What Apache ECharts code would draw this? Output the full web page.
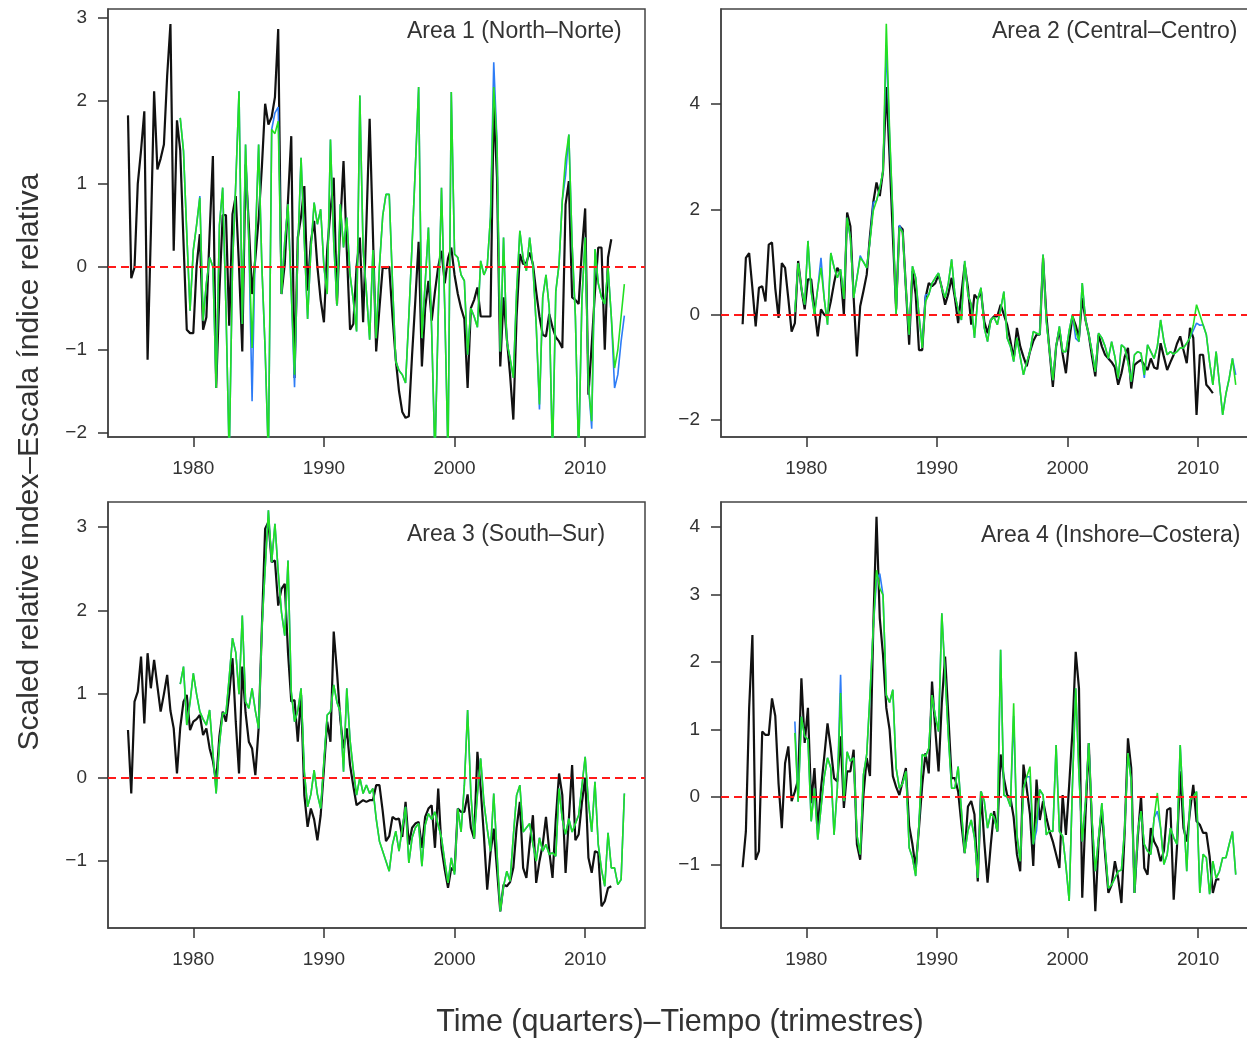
<!DOCTYPE html>
<html>
<head>
<meta charset="utf-8">
<title>Scaled relative index by area</title>
<script src="https://cdn.jsdelivr.net/npm/echarts@6.0.0/dist/echarts.min.js"></script>
<style>
  html, body { margin: 0; padding: 0; background: #ffffff; }
  #chart { width: 1247px; height: 1044px; }
</style>
</head>
<body>
<div id="chart"></div>
<script>
const xTicks = [1980, 1990, 2000, 2010];
const yTicks1 = [-2, -1, 0, 1, 2, 3];
const yTicks2 = [-2, 0, 2, 4];
const yTicks3 = [-1, 0, 1, 2, 3];
const yTicks4 = [-1, 0, 1, 2, 3, 4];
const areaTitles = [
  "Area 1 (North\u2013Norte)",
  "Area 2 (Central\u2013Centro)",
  "Area 3 (South\u2013Sur)",
  "Area 4 (Inshore\u2013Costera)",
];
const yTitle = "Scaled relative index\u2013Escala \u00edndice relativa";
const xTitle = "Time (quarters)\u2013Tiempo (trimestres)";

// quarterly values, first quarter of each series given by its start year
const p1BlackStart = 1975, p1FitStart = 1979;
const p1Black = [
  1.82, -0.14, -0.01, 1.0, 1.4, 1.87, -1.12, 0.4, 2.11, 1.17,
  1.3, 1.47, 2.3, 2.92, 0.19, 1.76, 1.4, 0.3, -0.76, -0.8,
  -0.8, 0.0, 0.39, -0.76, -0.61, 0.4, 1.33, -1.46, -0.3, 0.62,
  0.62, -0.71, 0.63, 0.85, 0.0, -1.02, 1.23, 0.5, -0.33, 0.1,
  0.57, 1.2, 1.96, 1.71, 1.8, 2.04, 2.86, -0.33, 0.03, 0.8,
  1.57, -1.34, 0.35, 0.6, 0.97, -0.29, 0.3, 0.55, 0.0, -0.4,
  -0.67, 0.2, 0.67, 1.07, -0.45, 0.5, 1.27, 0.2, -0.76, -0.69,
  0.0, 0.35, -0.67, 0.5, 1.78, 0.4, -1.02, -0.5, -0.01, -0.02,
  0.0, -0.6, -1.12, -1.5, -1.75, -1.82, -1.8, -1.06, -0.4, 0.3,
  -1.2, -0.5, -0.17, -0.65, -0.3, 0.0, 0.19, -0.2, 0.1, 0.23,
  -0.1, -0.33, -0.5, -0.63, -1.46, -0.5, -0.4, -0.25, -0.6, -0.6,
  -0.6, -0.6, 1.96, 1.07, -1.2, -0.37, -0.86, -1.3, -1.84, -0.6,
  0.15, 0.03, 0.05, 0.17, 0.03, -0.3, -0.6, -0.82, -0.84, -0.57,
  -0.73, -0.85, -0.9, -0.98, 0.75, 1.03, -0.37, -0.4, -0.45, 0.2,
  0.7, -1.54, -0.94, -0.3, 0.23, 0.23, -1.0, 0.11, 0.33,
];
const p1Blue = [
  1.79, 1.39, 0.4, -0.53, 0.2, 0.5, 0.85, -0.65, -0.2, 0.11,
  0.0, -1.46, 0.5, 0.95, -0.5, -2.3, 0.0, 1.0, 2.11, -0.69,
  1.47, 0.3, -1.62, 0.3, 1.47, 0.0, -1.0, -2.3, 1.65, 1.85,
  1.92, -0.33, 0.3, 0.75, -0.3, -1.45, 0.2, 1.31, 0.3, -0.63,
  0.2, 0.77, 0.51, 0.69, 0.0, -0.33, 1.53, 0.3, -0.47, 0.75,
  0.23, 0.59, -0.1, -0.41, -0.78, 2.06, 0.2, -0.3, -0.88, 0.2,
  -0.86, 0.0, 0.61, 0.87, 0.87, -0.2, -1.14, -1.25, -1.3, -1.4,
  -0.6, 0.27, 1.2, 2.16, -0.86, -0.2, 0.47, -0.78, -2.3, -0.6,
  0.95, -0.5, -2.3, 2.1, 0.15, 0.11, -0.1, -0.17, -1.06, -0.5,
  -0.6, -0.73, 0.07, -0.1, 0.0, 0.6, 2.46, 1.5, -1.02, 0.35,
  -0.9, -1.1, -1.34, -0.3, 0.43, 0.1, -0.05, 0.35, 0.0, -0.7,
  -1.72, -0.37, -0.1, -0.5, -2.3, -0.3, 0.03, 0.8, 1.1, 1.59,
  0.27, -0.6, -2.3, -0.4, 0.35, -1.42, -1.95, 0.21, -0.2, -0.37,
  -0.45, -0.01, -0.6, -1.46, -1.3, -0.9, -0.59,
];
const p1Green = [
  1.79, 1.39, 0.4, -0.53, 0.2, 0.5, 0.83, -0.65, -0.2, 0.11,
  0.0, -1.46, 0.5, 0.95, -0.5, -2.3, 0.0, 1.0, 2.11, -0.69,
  1.47, 0.3, -0.98, 0.3, 1.47, 0.0, -1.0, -2.3, 1.65, 1.6,
  1.75, -0.33, 0.3, 0.75, -0.3, -1.3, 0.2, 1.31, 0.3, -0.63,
  0.2, 0.77, 0.51, 0.69, 0.0, -0.33, 1.53, 0.3, -0.47, 0.75,
  0.23, 0.59, -0.1, -0.41, -0.78, 2.06, 0.2, -0.3, -0.88, 0.2,
  -0.86, 0.0, 0.61, 0.87, 0.87, -0.2, -1.14, -1.25, -1.3, -1.4,
  -0.6, 0.27, 1.2, 2.16, -0.86, -0.2, 0.47, -0.78, -2.3, -0.6,
  0.95, -0.5, -2.3, 2.1, 0.15, 0.11, -0.1, -0.17, -1.06, -0.5,
  -0.6, -0.73, 0.07, -0.1, 0.0, 0.6, 2.16, 1.5, -1.02, 0.35,
  -0.9, -1.1, -1.34, -0.3, 0.43, 0.1, -0.05, 0.35, 0.0, -0.7,
  -1.66, -0.37, -0.1, -0.5, -2.3, -0.3, 0.03, 0.8, 1.3, 1.59,
  0.27, -0.6, -2.3, -0.4, 0.35, -1.42, -1.86, 0.21, -0.2, -0.37,
  -0.45, -0.01, -0.6, -1.22, -1.0, -0.6, -0.21,
];

const p2BlackStart = 1975.125, p2FitStart = 1979.125;
const p2Black = [
  -0.18, 1.08, 1.17, 0.5, -0.22, 0.51, 0.54, 0.25, 1.33, 1.37,
  0.5, -0.06, 0.98, 0.89, 0.3, -0.32, -0.16, 1.02, 0.5, 0.1,
  0.67, 0.67, 0.1, -0.41, 0.1, 0.0, -0.03, 0.25, 0.6, 0.89,
  0.79, 0.0, 1.94, 1.68, 0.32, -0.79, 0.16, 0.45, 0.76, 1.5,
  2.13, 2.51, 2.25, 2.73, 4.32, 3.0, 1.5, 0.1, 1.68, 1.62,
  0.5, -0.57, 0.83, 0.38, -0.67, -0.67, 0.32, 0.6, 0.54, 0.6,
  0.76, 0.51, 0.19, 0.4, 0.7, 0.32, -0.16, 0.4, 0.95, 0.51,
  -0.19, 0.38, 0.3, 0.44, -0.13, -0.35, -0.1, -0.03, -0.03, 0.19,
  0.0, -0.19, -0.5, -0.83, -0.25, -0.6, -0.8, -0.98, -0.7, -0.5,
  -0.38, -0.38, 1.08, 0.0, -0.7, -1.37, -0.6, -0.29, -0.75, -1.11,
  -0.5, -0.03, -0.2, -0.44, 0.32, -0.1, -0.38, -0.8, -1.17, -0.38,
  -0.6, -0.76, -0.83, -0.9, -1.0, -1.33, -1.11, -0.8, -0.63, -1.4,
  -0.95, -0.9, -0.86, -0.95, -1.05, -0.83, -1.0, -1.03, -0.54, -0.8,
  -1.05, -0.9, -0.76, -0.55, -0.41, -0.67, -0.92, -0.25, -0.44, -1.9,
  -0.76, -0.76, -1.33, -1.4, -1.49,
];
const p2Blue = [
  0.05, 0.98, 0.5, 0.19, 1.4, 0.44, 0.0, 0.5, 1.08, 0.3,
  -0.19, 1.17, 0.9, 0.7, 0.86, 0.3, 1.84, 1.46, 0.32, 0.7,
  1.12, 1.0, 0.89, 1.4, 2.13, 2.16, 2.4, 2.73, 5.1, 3.4,
  1.9, 0.0, 1.7, 1.56, 0.5, -0.38, 0.92, 0.7, 0.0, -0.63,
  0.38, 0.38, 0.6, 0.7, 0.79, 0.5, 0.32, 0.6, 1.05, 0.38,
  0.1, -0.1, 1.02, 0.38, 0.2, -0.44, 0.3, 0.51, -0.25, -0.51,
  -0.1, -0.05, -0.19, 0.1, 0.44, -0.44, -0.6, -0.89, -0.44, -0.8,
  -1.14, -0.9, -0.7, -0.32, -0.35, -0.38, 1.14, -0.13, -0.7, -1.24,
  -0.6, -0.22, -0.7, -0.7, -0.3, 0.0, -0.45, -0.51, 0.6, -0.1,
  -0.38, -0.7, -1.08, -0.35, -0.44, -0.6, -0.83, -0.51, -0.8, -1.21,
  -0.57, -0.63, -0.9, -1.27, -0.76, -0.7, -0.73, -1.2, -0.57, -0.7,
  -0.83, -0.6, -0.1, -0.5, -0.76, -0.7, -0.75, -0.7, -0.63, -0.63,
  -0.54, -0.44, -0.3, -0.16, -0.2, -0.19, -0.38, -0.9, -1.33, -0.7,
  -1.3, -1.9, -1.5, -1.21, -0.83, -1.14,
];
const p2Green = [
  0.05, 0.98, 0.5, 0.19, 1.4, 0.44, 0.0, 0.5, 0.89, 0.3,
  -0.19, 1.17, 0.9, 0.7, 0.86, 0.3, 1.84, 1.46, 0.32, 0.7,
  1.08, 1.0, 0.89, 1.4, 1.97, 2.16, 2.4, 2.73, 5.52, 3.5,
  1.9, 0.0, 1.65, 1.56, 0.5, -0.38, 0.92, 0.7, 0.0, -0.63,
  0.25, 0.38, 0.6, 0.7, 0.79, 0.5, 0.32, 0.6, 1.05, 0.38,
  0.1, -0.1, 1.02, 0.38, 0.2, -0.44, 0.3, 0.51, -0.25, -0.51,
  -0.1, -0.05, -0.19, 0.1, 0.44, -0.44, -0.6, -0.89, -0.44, -0.8,
  -1.14, -0.9, -0.7, -0.32, -0.35, -0.38, 1.14, -0.13, -0.7, -1.24,
  -0.6, -0.22, -0.7, -0.7, -0.3, 0.0, -0.3, -0.51, 0.6, -0.1,
  -0.38, -0.7, -1.08, -0.35, -0.44, -0.6, -0.83, -0.51, -0.8, -1.21,
  -0.57, -0.63, -0.9, -1.27, -0.76, -0.7, -0.73, -1.14, -0.57, -0.7,
  -0.83, -0.6, -0.1, -0.5, -0.76, -0.7, -0.75, -0.7, -0.63, -0.63,
  -0.54, -0.44, -0.2, 0.19, 0.0, -0.19, -0.38, -0.9, -1.33, -0.7,
  -1.3, -1.9, -1.5, -1.21, -0.83, -1.33,
];

const p3BlackStart = 1975, p3FitStart = 1979;
const p3Black = [
  0.57, -0.19, 0.91, 1.03, 1.45, 0.65, 1.49, 1.07, 1.41, 1.1,
  0.79, 1.0, 1.23, 0.8, 0.59, 0.05, 0.6, 0.91, 0.99, 0.57,
  0.67, 0.7, 0.75, 0.51, 0.59, 0.35, 0.2, -0.05, 0.5, 0.79,
  0.67, 1.0, 1.43, 0.67, 0.05, 1.33, 0.78, 0.43, 0.35, 0.03,
  0.59, 1.8, 2.98, 3.06, 2.58, 2.6, 2.06, 2.26, 2.32, 1.5,
  0.91, 0.93, 0.43, 0.99, -0.21, -0.59, -0.37, -0.5, -0.75, -0.45,
  0.1, 0.67, 0.43, 1.75, 1.27, 0.7, 0.35, 0.59, 0.15, -0.1,
  -0.33, -0.3, -0.27, -0.29, -0.27, -0.27, -0.09, -0.09, -0.4, -0.76,
  -0.7, -0.47, -0.5, -0.49, -0.71, -0.29, -0.8, -0.6, -0.55, -0.53,
  -0.84, -0.47, -0.37, -0.33, -0.84, -0.13, -0.84, -1.1, -1.32, -1.08,
  -1.12, -0.37, -0.41, -0.41, -0.2, -0.6, -0.73, 0.31, -0.13, -0.7,
  -1.34, -0.9, -0.61, -1.1, -1.6, -1.28, -1.3, -1.25, -1.08, -0.6,
  -0.29, -1.08, -1.2, -0.8, -0.45, -1.26, -1.0, -0.8, -0.47, -0.88,
  -1.2, -0.5, 0.05, -0.21, -1.14, -0.5, 0.15, -0.75, -0.68, -0.3,
  0.0, -0.96, -1.14, -0.88, -0.9, -1.54, -1.48, -1.32, -1.3,
];
const p3Green = [
  1.12, 1.33, 0.63, 0.9, 1.25, 1.0, 0.79, 0.7, 0.63, 0.81,
  0.3, -0.19, 0.4, 0.77, 0.77, 1.2, 1.67, 1.5, 1.0, 1.94,
  0.91, 0.83, 1.07, 0.8, 0.59, 1.78, 2.5, 3.2, 2.58, 3.04,
  2.46, 1.98, 1.7, 2.6, 1.03, 0.67, 0.8, 1.07, 0.07, -0.35,
  -0.2, 0.09, -0.2, -0.37, 0.2, 0.75, 0.79, 1.11, 0.9, 0.79,
  0.07, 1.07, 0.45, 0.09, -0.21, 0.0, -0.19, -0.09, -0.19, -0.13,
  -0.49, -0.76, -0.88, -1.0, -1.12, -0.8, -0.64, -0.88, -0.6, -0.35,
  -1.02, -0.72, -0.6, -0.55, -1.06, -0.57, -0.43, -0.5, -0.41, -0.57,
  -0.72, -1.0, -1.26, -0.96, -1.16, -0.37, -0.65, -0.09, 0.81, -0.2,
  -0.73, -0.2, 0.23, -0.3, -0.61, -0.88, -0.19, -0.9, -1.6, -1.3,
  -1.12, -1.24, -0.7, -0.21, -0.09, -0.65, -0.6, -0.55, -0.8, -1.0,
  -0.72, -0.88, -0.8, -0.92, -0.9, -0.94, -0.13, -0.5, -0.68, -0.49,
  -0.65, -0.55, -0.45, -0.1, 0.25, -0.3, -0.65, -0.05, -0.8, -1.1,
  -1.3, -0.66, -1.08, -1.08, -1.28, -1.22, -0.19,
];
// in area 3 the blue fit lies under the green one everywhere
const p3Blue = p3Green;

const p4BlackStart = 1975.125, p4FitStart = 1979.125;
const p4Black = [
  -1.04, -0.51, 1.32, 2.4, -0.93, -0.8, 0.97, 0.92, 0.92, 1.46,
  1.2, 0.2, -0.46, 0.5, 0.75, -0.06, 0.08, 0.26, 1.76, 0.8,
  1.32, -0.09, 0.43, -0.48, 0.13, 0.6, 1.09, 0.72, 0.28, 0.23,
  0.9, -0.16, 0.38, 0.38, 0.7, -0.7, -0.93, 0.03, 0.58, 0.31,
  2.5, 4.15, 2.65, 2.1, 1.32, 1.0, 0.31, 0.15, 0.03, 0.23,
  0.43, -0.43, -0.7, -1.05, -0.46, 0.18, 0.65, 0.35, 1.71, 1.0,
  0.38, 1.4, 2.08, 1.2, 0.28, 0.28, 0.08, -0.4, -0.83, -0.14,
  -0.06, -0.26, -1.25, 0.08, -0.66, -1.27, -0.7, -0.21, -0.51, 0.63,
  0.28, 0.03, -0.01, -0.3, -0.85, -1.1, 0.48, 0.13, -0.26, -1.02,
  0.26, -0.34, -0.06, -0.3, -0.51, -0.66, -0.85, -1.05, 0.03, -0.56,
  0.18, 0.97, 2.15, 1.61, -1.49, -0.26, 0.8, -0.46, -1.69, -0.66,
  -0.19, -0.85, -1.42, -1.3, -0.95, -1.2, -1.57, -0.51, 0.87, 0.43,
  -1.42, -0.6, 0.01, -1.05, -1.15, -0.46, -0.66, -0.75, -0.95, -0.8,
  -0.19, -0.16, -1.52, -0.75, 0.38, -0.46, -0.66, -0.21, 0.18, -0.36,
  -0.41, -0.53, -0.53, -0.88, -1.42, -1.22, -1.22,
];
const p4Blue = [
  1.12, -0.07, 1.19, 0.9, 0.85, -0.36, 0.13, -0.63, -0.16, 0.3,
  0.58, 0.43, -0.56, 0.13, 1.81, -0.06, 0.67, 0.53, 0.58, -0.56,
  -0.85, 0.33, 0.63, 1.51, 2.5, 3.2, 3.31, 2.99, 1.51, 1.4,
  1.59, 0.43, 0.13, 0.2, 0.38, -0.75, -0.9, -1.17, -0.41, 0.63,
  0.6, 0.72, 1.51, 1.2, 0.97, 2.72, 1.81, 0.9, 0.13, 0.13,
  0.45, -0.2, -0.83, -0.5, -0.34, -0.6, -1.2, 0.08, -0.06, -0.46,
  -0.24, -0.3, -0.51, 2.18, 0.03, 0.0, -0.14, 1.2, -0.56, -0.95,
  0.13, 0.3, 0.3, -0.7, -0.5, 0.11, 0.03, -0.56, -0.5, -0.51,
  0.77, -0.51, -0.58, -1.02, -1.54, 0.18, 1.61, 0.33, -0.66, -0.06,
  0.8, -0.34, -1.1, -0.6, -0.09, -0.75, -1.35, -1.3, -1.2, -1.1,
  -1.08, -0.46, 0.65, 0.23, -1.42, -0.51, -0.21, -0.7, -0.8, -0.85,
  -0.31, -0.21, -0.46, -1.0, -0.85, -0.46, -0.6, -0.7, 0.77, -0.21,
  -1.1, -0.04, 0.0, 0.08, -1.42, -0.85, -0.9, -1.44, -0.95, -1.2,
  -1.1, -0.9, -0.9, -0.7, -0.51, -1.15,
];
const p4Green = [
  0.95, -0.07, 1.19, 0.9, 0.85, -0.36, 0.13, -0.63, -0.16, 0.3,
  0.58, 0.43, -0.56, 0.13, 1.54, -0.06, 0.67, 0.53, 0.58, -0.56,
  -0.85, 0.33, 0.63, 1.51, 2.5, 3.36, 3.09, 2.99, 1.51, 1.4,
  1.59, 0.43, 0.13, 0.2, 0.38, -0.75, -0.9, -1.17, -0.41, 0.63,
  0.6, 0.72, 1.51, 1.2, 0.97, 2.72, 1.81, 0.9, 0.13, 0.13,
  0.45, -0.2, -0.83, -0.5, -0.34, -0.6, -1.2, 0.08, -0.06, -0.46,
  -0.24, -0.3, -0.51, 2.18, 0.03, 0.0, -0.14, 1.39, -0.56, -0.95,
  0.13, 0.3, 0.45, -0.7, -0.34, 0.11, 0.03, -0.56, -0.5, -0.51,
  0.77, -0.51, -0.58, -1.02, -1.54, 0.18, 1.61, 0.33, -0.66, -0.06,
  0.8, -0.34, -1.1, -0.6, -0.09, -0.75, -1.35, -1.3, -1.2, -1.1,
  -1.08, -0.46, 0.65, 0.23, -1.42, -0.51, -0.21, -0.7, -0.8, -0.85,
  -0.31, 0.06, -0.46, -1.0, -0.85, -0.46, -0.6, -0.7, 0.77, -0.21,
  -1.1, -0.04, 0.0, 0.08, -1.42, -0.85, -0.9, -1.44, -0.95, -1.2,
  -1.1, -0.9, -0.9, -0.7, -0.51, -1.15,
];

const FONT = '"Liberation Sans", Arial, Helvetica, sans-serif';
const lineColors = ["#111111", "#2d7cf6", "#22e022"];
const lineWidths = [2.2, 1.6, 1.6];

const toPoints = (start, vals) => vals.map((v, i) => [start + i / 4, v]);
const minus = (v) => String(v).replace("-", "\u2212");

let layout = [
  { left: 108, top: 9, height: 428, min: -2.05, max: 3.1, ticks: yTicks1, tx: 407, ty: 32 },
  { left: 721, top: 9, height: 428, min: -2.32, max: 5.8, ticks: yTicks2, tx: 992, ty: 32 },
  { left: 108, top: 502, height: 426, min: -1.8, max: 3.3, ticks: yTicks3, tx: 407, ty: 535 },
  { left: 721, top: 502, height: 426, min: -1.94, max: 4.37, ticks: yTicks4, tx: 981, ty: 536 },
];
let panelData = [
  [toPoints(p1BlackStart, p1Black), toPoints(p1FitStart, p1Blue), toPoints(p1FitStart, p1Green)],
  [toPoints(p2BlackStart, p2Black), toPoints(p2FitStart, p2Blue), toPoints(p2FitStart, p2Green)],
  [toPoints(p3BlackStart, p3Black), toPoints(p3FitStart, p3Blue), toPoints(p3FitStart, p3Green)],
  [toPoints(p4BlackStart, p4Black), toPoints(p4FitStart, p4Blue), toPoints(p4FitStart, p4Green)],
];

let series = [];
panelData.forEach((lines, p) => {
  lines.forEach((data, k) => {
    let s = {
      type: "line",
      xAxisIndex: p,
      yAxisIndex: p,
      data: data,
      symbol: "none",
      clip: true,
      lineStyle: { color: lineColors[k], width: lineWidths[k] },
      z: 2 + k,
    };
    if (k === 2) {
      s.markLine = {
        silent: true,
        symbol: ["none", "none"],
        label: { show: false },
        lineStyle: { color: "#ff1a1a", type: [8, 5], width: 2 },
        data: [{ yAxis: 0 }],
      };
    }
    series.push(s);
  });
});

let axisLine = { show: true, onZero: false, lineStyle: { color: "#444444", width: 1.5 } };
let axisTick = (values) => ({
  show: true,
  customValues: values,
  length: 10,
  lineStyle: { color: "#333333", width: 1.5 },
});

let chart = echarts.init(document.getElementById("chart"));
chart.setOption({
  animation: false,
  backgroundColor: "#ffffff",
  grid: layout.map((l) => ({
    left: l.left,
    top: l.top,
    width: 537,
    height: l.height,
    show: true,
    borderColor: "#444444",
    borderWidth: 1.5,
    outerBoundsMode: "none",
    containLabel: false,
  })),
  xAxis: layout.map((l, i) => ({
    type: "value",
    gridIndex: i,
    position: "bottom",
    min: 1973.47,
    max: 2014.58,
    axisLine: axisLine,
    splitLine: { show: false },
    axisTick: axisTick(xTicks),
    axisLabel: {
      customValues: xTicks,
      fontSize: 19,
      color: "#333333",
      margin: 22,
      fontFamily: FONT,
      formatter: (v) => String(v),
    },
  })),
  yAxis: layout.map((l, i) => ({
    type: "value",
    gridIndex: i,
    position: "left",
    min: l.min,
    max: l.max,
    axisLine: axisLine,
    splitLine: { show: false },
    axisTick: axisTick(l.ticks),
    axisLabel: {
      customValues: l.ticks,
      fontSize: 19,
      color: "#333333",
      margin: 21,
      fontFamily: FONT,
      formatter: minus,
    },
  })),
  graphic: [
    ...layout.map((l, i) => ({
      type: "text",
      x: l.tx,
      y: l.ty,
      silent: true,
      style: {
        text: areaTitles[i],
        fontSize: 23,
        fontFamily: FONT,
        fill: "#333333",
        align: "left",
        verticalAlign: "middle",
      },
    })),
    {
      type: "text",
      x: 30,
      y: 462,
      rotation: Math.PI / 2,
      silent: true,
      style: { text: yTitle, fontSize: 30, fontFamily: FONT, fill: "#333333", align: "center", verticalAlign: "middle" },
    },
    {
      type: "text",
      x: 680,
      y: 1023,
      silent: true,
      style: { text: xTitle, fontSize: 30.5, fontFamily: FONT, fill: "#333333", align: "center", verticalAlign: "middle" },
    },
  ],
  series: series,
});
</script>
</body>
</html>
